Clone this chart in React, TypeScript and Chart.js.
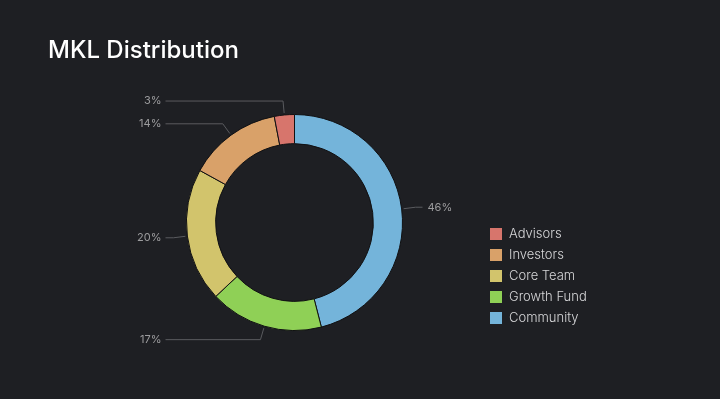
import React, { useEffect, useRef } from "react";
import { Chart, registerables } from "chart.js";

Chart.register(...registerables);

const title = "MKL Distribution";
// drawing order (clockwise from top)
const categories = ["Community", "Growth Fund", "Core Team", "Investors", "Advisors"];
const shares = [46, 17, 20, 14, 3];
const colors = ["#74b4da", "#8fd056", "#d2c46c", "#d9a169", "#d7756c"];
// legend order
const legendOrder = ["Advisors", "Investors", "Core Team", "Growth Fund", "Community"];

const BG = "#1e1f23";
const FONT = "Inter, 'DejaVu Sans', sans-serif";

const calloutPlugin = {
  id: "callouts",
  afterDatasetsDraw(chart: any) {
    const ctx = chart.ctx;
    const meta = chart.getDatasetMeta(0);
    const ds = chart.data.datasets[0];
    ctx.save();
    meta.data.forEach((arc: any, i: number) => {
      const { x, y, startAngle, endAngle, outerRadius } = arc.getProps(
        ["x", "y", "startAngle", "endAngle", "outerRadius"],
        true
      );
      const mid = (startAngle + endAngle) / 2;
      const c = Math.cos(mid);
      const s = Math.sin(mid);
      const p0 = { x: x + (outerRadius + 2) * c, y: y + (outerRadius + 2) * s };
      const p1 = { x: x + (outerRadius + 14) * c, y: y + (outerRadius + 14) * s };
      const right = c >= 0;
      const xEnd = right ? x + outerRadius + 20 : x - outerRadius - 21;
      ctx.strokeStyle = "#5a5b5f";
      ctx.lineWidth = 1;
      ctx.beginPath();
      ctx.moveTo(p0.x, p0.y);
      ctx.lineTo(p1.x, p1.y);
      ctx.lineTo(xEnd, p1.y);
      ctx.stroke();
      ctx.fillStyle = "#9c9c9e";
      ctx.font = `11px ${FONT}`;
      ctx.textBaseline = "middle";
      ctx.textAlign = right ? "left" : "right";
      ctx.fillText(`${ds.data[i]}%`, right ? xEnd + 5 : xEnd - 4, p1.y);
    });
    ctx.restore();
  },
};

const legendPlugin = {
  id: "customLegend",
  afterDraw(chart: any) {
    const ctx = chart.ctx;
    const ds = chart.data.datasets[0];
    ctx.save();
    legendOrder.forEach((name, k) => {
      const idx = chart.data.labels.indexOf(name);
      const cy = 234 + k * 21;
      ctx.fillStyle = ds.backgroundColor[idx];
      ctx.fillRect(490, cy - 6, 12, 12);
      ctx.fillStyle = "#d6d6d8";
      ctx.font = `300 13px ${FONT}`;
      ctx.textAlign = "left";
      ctx.textBaseline = "middle";
      ctx.fillText(name, 509, cy + 0.5);
    });
    ctx.restore();
  },
};

const titlePlugin = {
  id: "customTitle",
  afterDraw(chart: any) {
    const ctx = chart.ctx;
    ctx.save();
    ctx.fillStyle = "#ffffff";
    ctx.font = `500 24px ${FONT}`;
    ctx.textAlign = "left";
    ctx.textBaseline = "alphabetic";
    ctx.fillText(title, 48, 58);
    ctx.restore();
  },
};

export default function App() {
  const ref = useRef<HTMLCanvasElement>(null);
  useEffect(() => {
    document.body.style.margin = "0";
    document.body.style.background = BG;
    const chart = new Chart(ref.current!, {
      type: "doughnut",
      data: {
        labels: categories,
        datasets: [
          {
            data: shares,
            backgroundColor: colors,
            borderColor: "#111113",
            borderWidth: 1,
          },
        ],
      },
      options: {
        animation: false,
        responsive: false,
        cutout: "73%",
        layout: { padding: { left: 186, right: 317, top: 114, bottom: 68 } },
        plugins: {
          legend: { display: false },
          tooltip: { enabled: false },
          title: { display: false },
        },
      },
      plugins: [calloutPlugin, legendPlugin, titlePlugin],
    });
    return () => chart.destroy();
  }, []);
  return (
    <div style={{ width: 720, height: 399, background: BG }}>
      <canvas ref={ref} width={720} height={399} style={{ display: "block" }} />
    </div>
  );
}
